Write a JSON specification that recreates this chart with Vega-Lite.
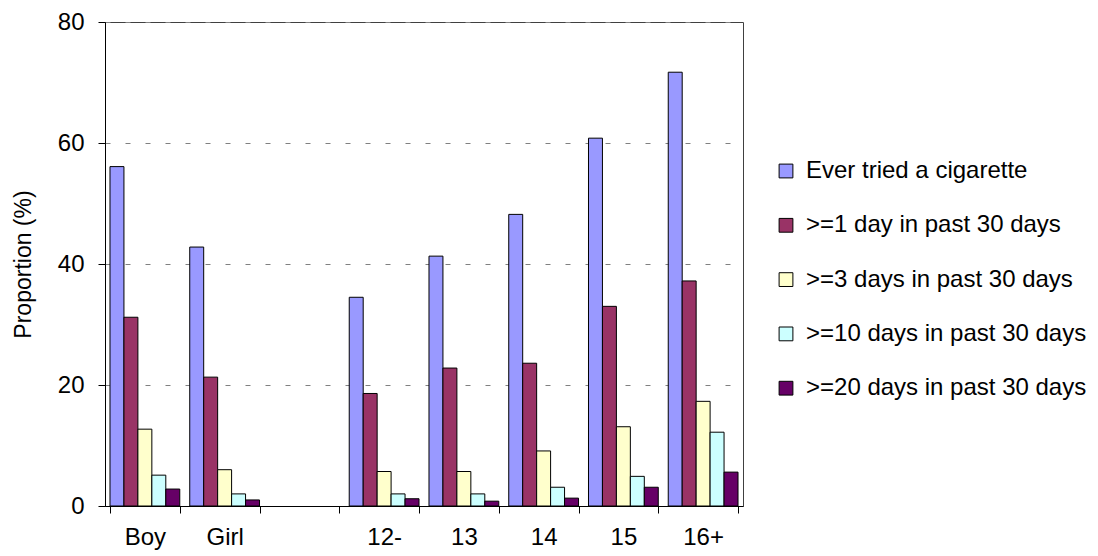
{
  "$schema": "https://vega.github.io/schema/vega-lite/v6.json",
  "autosize": "none",
  "width": 638,
  "height": 484,
  "padding": {"left": 105, "top": 22, "right": 355, "bottom": 50},
  "background": "white",
  "config": {
    "font": "Liberation Sans",
    "view": {"stroke": "#404040", "strokeWidth": 1},
    "axis": {"labelFont": "Liberation Sans", "titleFont": "Liberation Sans", "labelColor": "black", "titleColor": "black", "domainColor": "black", "tickColor": "black"},
    "legend": {"labelFont": "Liberation Sans", "padding": 0}
  },
  "data": {
    "values": [
      {"group": "Boy", "series": "Ever tried a cigarette", "value": 56.1},
      {"group": "Boy", "series": ">=1 day in past 30 days", "value": 31.2},
      {"group": "Boy", "series": ">=3 days in past 30 days", "value": 12.7},
      {"group": "Boy", "series": ">=10 days in past 30 days", "value": 5.1},
      {"group": "Boy", "series": ">=20 days in past 30 days", "value": 2.8},
      {"group": "Girl", "series": "Ever tried a cigarette", "value": 42.8},
      {"group": "Girl", "series": ">=1 day in past 30 days", "value": 21.3},
      {"group": "Girl", "series": ">=3 days in past 30 days", "value": 6.0},
      {"group": "Girl", "series": ">=10 days in past 30 days", "value": 2.0},
      {"group": "Girl", "series": ">=20 days in past 30 days", "value": 1.0},
      {"group": "12-", "series": "Ever tried a cigarette", "value": 34.5},
      {"group": "12-", "series": ">=1 day in past 30 days", "value": 18.6},
      {"group": "12-", "series": ">=3 days in past 30 days", "value": 5.7},
      {"group": "12-", "series": ">=10 days in past 30 days", "value": 2.0},
      {"group": "12-", "series": ">=20 days in past 30 days", "value": 1.2},
      {"group": "13", "series": "Ever tried a cigarette", "value": 41.3},
      {"group": "13", "series": ">=1 day in past 30 days", "value": 22.8},
      {"group": "13", "series": ">=3 days in past 30 days", "value": 5.7},
      {"group": "13", "series": ">=10 days in past 30 days", "value": 2.0},
      {"group": "13", "series": ">=20 days in past 30 days", "value": 0.8},
      {"group": "14", "series": "Ever tried a cigarette", "value": 48.2},
      {"group": "14", "series": ">=1 day in past 30 days", "value": 23.6},
      {"group": "14", "series": ">=3 days in past 30 days", "value": 9.1},
      {"group": "14", "series": ">=10 days in past 30 days", "value": 3.1},
      {"group": "14", "series": ">=20 days in past 30 days", "value": 1.3},
      {"group": "15", "series": "Ever tried a cigarette", "value": 60.8},
      {"group": "15", "series": ">=1 day in past 30 days", "value": 33.0},
      {"group": "15", "series": ">=3 days in past 30 days", "value": 13.1},
      {"group": "15", "series": ">=10 days in past 30 days", "value": 4.9},
      {"group": "15", "series": ">=20 days in past 30 days", "value": 3.1},
      {"group": "16+", "series": "Ever tried a cigarette", "value": 71.7},
      {"group": "16+", "series": ">=1 day in past 30 days", "value": 37.2},
      {"group": "16+", "series": ">=3 days in past 30 days", "value": 17.3},
      {"group": "16+", "series": ">=10 days in past 30 days", "value": 12.2},
      {"group": "16+", "series": ">=20 days in past 30 days", "value": 5.6}
    ]
  },
  "mark": {"type": "bar", "stroke": "black", "strokeWidth": 1},
  "encoding": {
    "x": {
      "field": "group",
      "type": "nominal",
      "scale": {"domain": ["Boy", "Girl", " ", "12-", "13", "14", "15", "16+"], "paddingInner": 0.125, "paddingOuter": 0.0625},
      "axis": {"title": null, "labelAngle": 0, "labelFontSize": 24, "labelPadding": 12, "tickBand": "extent", "tickSize": 7, "domainWidth": 1}
    },
    "xOffset": {
      "field": "series",
      "type": "nominal",
      "scale": {"domain": ["Ever tried a cigarette", ">=1 day in past 30 days", ">=3 days in past 30 days", ">=10 days in past 30 days", ">=20 days in past 30 days"], "paddingInner": 0, "paddingOuter": 0}
    },
    "y": {
      "field": "value",
      "type": "quantitative",
      "scale": {"domain": [0, 80], "nice": false},
      "axis": {"title": "Proportion (%)", "titleFontSize": 23, "titleFontWeight": "normal", "titlePadding": 22, "labelFontSize": 24, "labelPadding": 14, "tickSize": 7, "values": [0, 20, 40, 60, 80], "grid": true, "gridColor": "#808080", "gridDash": [5, 15], "gridWidth": 1}
    },
    "color": {
      "field": "series",
      "type": "nominal",
      "scale": {"domain": ["Ever tried a cigarette", ">=1 day in past 30 days", ">=3 days in past 30 days", ">=10 days in past 30 days", ">=20 days in past 30 days"], "range": ["#9999FF", "#993366", "#FFFFCC", "#CCFFFF", "#660066"]},
      "legend": {"title": null, "orient": "none", "legendX": 669, "legendY": 137, "symbolType": "square", "symbolSize": 190, "symbolStrokeColor": "black", "symbolStrokeWidth": 1, "symbolOpacity": 1, "labelFontSize": 24, "labelColor": "black", "labelOffset": 8, "rowPadding": 30.3, "labelLimit": 400}
    }
  }
}
